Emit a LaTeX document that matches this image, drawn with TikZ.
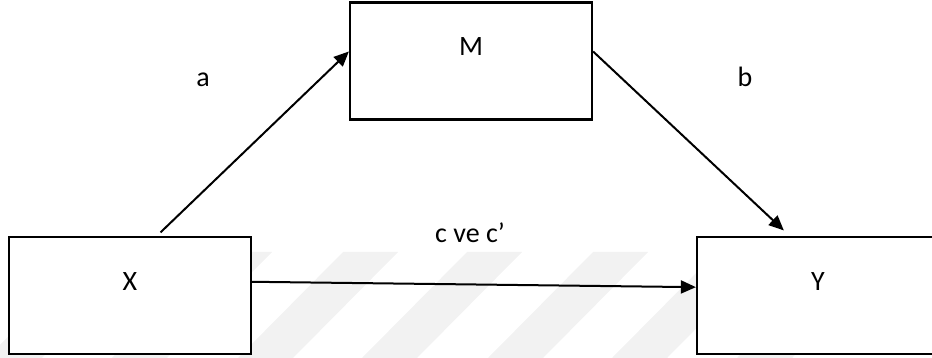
\documentclass[tikz,border=0pt]{standalone}
\usepackage{fontspec}
\setmainfont{Carlito}
\usetikzlibrary{arrows.meta, positioning, calc}

\begin{document}
\begin{tikzpicture}[x=1pt, y=-1pt, on grid,
    font=\fontsize{28}{34}\selectfont,
    var/.style={draw, fill=white, line width=2.2pt, inner sep=0pt,
      minimum width=242pt, minimum height=117pt,
      text height=18pt, text depth=28pt},
    effect/.style={line width=2pt, -{Triangle[length=15pt, width=13pt]}}]
  \clip (0,0) rectangle (932,358);
  % faint stripes in the background
  \foreach \t in {92,217,343,467,593,717,842}
    \fill[black!5] (\t,252) -- (\t+55,252) -- (\t-50,358) -- (\t-105,358) -- cycle;

  \node[var] (M) at (471,61)                    {M};
  \node[var] (X) [below left=234.5pt and 341pt of M] {X};
  \node[var] (Y) [right=688pt of X]             {Y};

  \coordinate (a_in)  at ($(X.north west)!0.61!(X.north east)$);
  \coordinate (a_out) at ($(M.north west)!0.42!(M.south west)$);
  \coordinate (b_in)  at ($(M.north east)!0.42!(M.south east)$);
  \coordinate (b_out) at ($(Y.north west)!0.384!(Y.north east)$);
  \coordinate (c_in)  at ($(X.north east)!0.385!(X.south east)$);
  \coordinate (c_out) at ($(Y.north west)!0.43!(Y.south west)$);

  \draw[effect, shorten <=5pt] (a_in) -- (a_out);
  \draw[effect, shorten >=8pt] (b_in) -- (b_out);
  \draw[effect]                (c_in) -- (c_out);

  \node (a) at (203,80)  {a};
  \node (b) at (745,77)  {b};
  \node (c) at (470,233) {c ve c’};
\end{tikzpicture}
\end{document}
